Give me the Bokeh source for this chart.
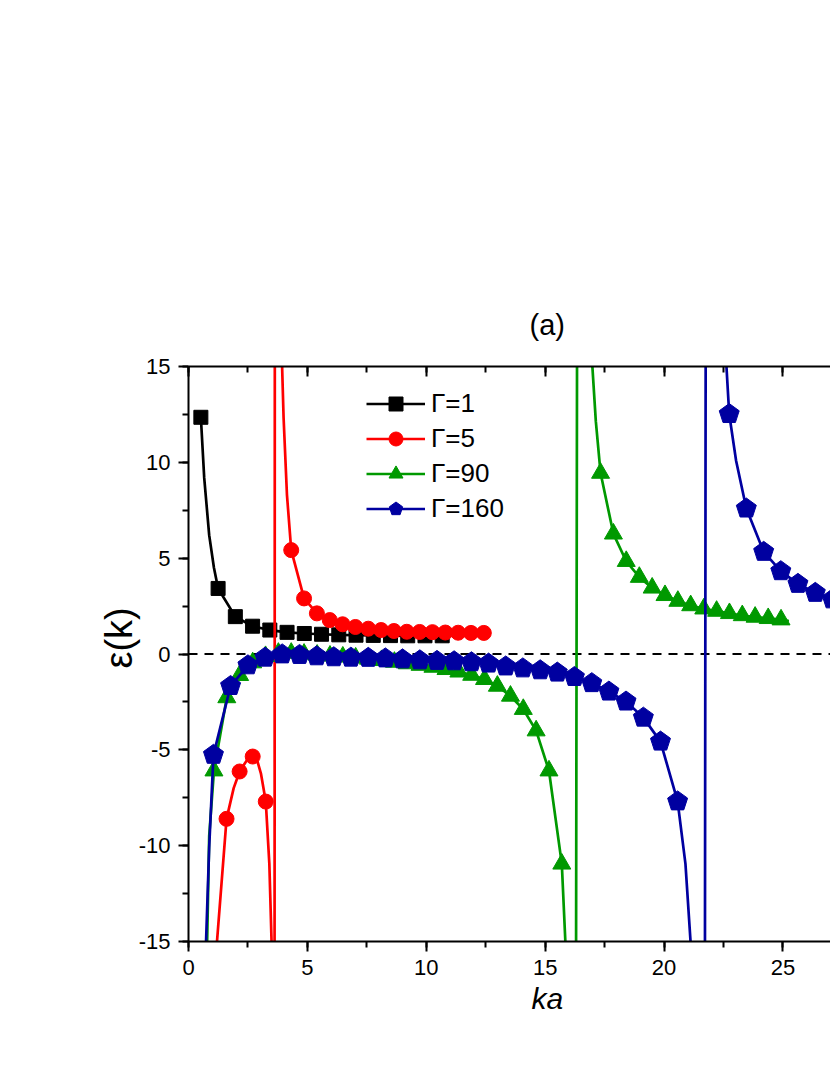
import math
from bokeh.plotting import figure
from bokeh.models import (LinearAxis, SingleIntervalTicker, Span, Legend, Title,
                          LegendItem, Range1d, CustomJSTickFormatter)
from bokeh.embed import file_html
from bokeh.resources import INLINE

NaN = float("nan")

# ---------------- data ----------------
# Gamma = 1 (black squares)
black_x = [0.52, 1.245, 1.97, 2.695, 3.42, 4.145, 4.87, 5.595, 6.32, 7.045, 7.77, 8.495, 9.22, 9.945, 10.67]
black_y = [12.35, 3.42, 1.95, 1.45, 1.25, 1.13, 1.07, 1.03, 1.0, 0.98, 0.97, 0.96, 0.95, 0.95, 0.95]
black_curve_x = [0.66, 0.87, 1.07]          # extra points of the curve between first two markers
black_curve_y = [9.2, 6.2, 4.5]

# Gamma = 5 (red circles)
red_x = [1.6, 2.15, 2.7, 3.25, 4.32, 4.86, 5.4, 5.94, 6.48, 7.02, 7.56, 8.1, 8.64, 9.18, 9.72,
         10.26, 10.8, 11.34, 11.88, 12.42]
red_y = [-8.6, -6.13, -5.35, -7.7, 5.42, 2.9, 2.12, 1.77, 1.55, 1.41, 1.32, 1.25, 1.2, 1.16, 1.15,
         1.14, 1.12, 1.11, 1.1, 1.1]
red_branch1_x = [1.18, 1.6, 1.9, 2.15, 2.45, 2.7, 2.9, 3.05, 3.25, 3.4, 3.5]
red_branch1_y = [-15.3, -8.6, -7.0, -6.13, -5.55, -5.35, -5.6, -6.26, -7.7, -10.95, -15.3]
red_pole_x = [3.62, 3.63]
red_pole_y = [-15.3, 15.3]
red_branch2_pre_x = [3.93, 4.0, 4.14]
red_branch2_pre_y = [15.3, 12.3, 8.32]

# Gamma = 90 (green triangles)
green_x_low = [1.07, 1.61, 2.15, 2.70, 3.24, 3.78, 4.32, 4.86, 5.41, 5.95, 6.49, 7.03, 7.57, 8.12,
               8.66, 9.20, 9.74, 10.28, 10.83, 11.37, 11.91, 12.45, 12.99, 13.54, 14.08, 14.62,
               15.16, 15.70]
green_y_low = [-6.09, -2.27, -1.11, -0.45, -0.12, 0.05, 0.05, 0.0, -0.05, -0.1, -0.15, -0.2, -0.26,
               -0.33, -0.42, -0.5, -0.58, -0.68, -0.8, -0.93, -1.1, -1.32, -1.67, -2.19, -2.88,
               -4.0, -6.09, -10.95]
green_x_up = [17.33, 17.87, 18.41, 18.96, 19.50, 20.04, 20.58, 21.12, 21.67, 22.21, 22.75, 23.29,
              23.83, 24.38, 24.92]
green_y_up = [9.44, 6.27, 4.84, 4.01, 3.45, 3.06, 2.76, 2.53, 2.36, 2.24, 2.12, 2.01, 1.93, 1.86, 1.79]
green_pre_x, green_pre_y = [0.78, 0.87], [-15.3, -9.5]
green_post_x, green_post_y = [15.86], [-15.3]
green_pole_x, green_pole_y = [16.3, 16.34], [-15.3, 15.3]
green_up_pre_x, green_up_pre_y = [16.97, 17.13], [15.3, 12.15]
green_up_post_x, green_up_post_y = [25.25], [1.72]

# Gamma = 160 (blue pentagons)
blue_x_low = [1.05, 1.77, 2.50, 3.22, 3.94, 4.67, 5.39, 6.11, 6.83, 7.56, 8.28, 9.00, 9.73, 10.45,
              11.17, 11.90, 12.62, 13.34, 14.06, 14.79, 15.51, 16.23, 16.96, 17.68, 18.40, 19.13,
              19.85, 20.57]
blue_y_low = [-5.26, -1.67, -0.59, -0.19, -0.02, -0.05, -0.12, -0.17, -0.19, -0.2, -0.23, -0.28,
              -0.33, -0.36, -0.38, -0.43, -0.5, -0.65, -0.75, -0.85, -0.97, -1.2, -1.52, -1.96,
              -2.48, -3.32, -4.57, -7.69]
blue_x_up = [22.74, 23.46, 24.19, 24.91, 25.63, 26.36, 27.08]
blue_y_up = [12.52, 7.59, 5.33, 4.32, 3.66, 3.19, 2.85]
blue_pre_x, blue_pre_y = [0.73, 0.87], [-15.3, -10.08]
blue_post_x, blue_post_y = [20.9, 21.13], [-10.95, -15.3]
blue_pole_x, blue_pole_y = [21.72, 21.75], [-15.3, 15.3]
blue_up_pre_x, blue_up_pre_y = [22.61], [15.3]
blue_up_mid_x, blue_up_mid_y = [23.03], [10.08]

labels = ["\u0393=1", "\u0393=5", "\u0393=90", "\u0393=160"]
x_ticks_interval = 5
y_ticks_interval = 5

BLACK, RED, GREEN, BLUE = "#000000", "#FF0000", "#009900", "#0000A0"
FONT = "Liberation Sans"

# ---------------- figure ----------------
p = figure(width=830, height=1075, output_backend="svg", toolbar_location=None,
           x_range=Range1d(0, 27.0), y_range=Range1d(-15, 15),
           x_axis_location=None, y_axis_location=None,
           min_border_left=188, min_border_right=0, min_border_top=366, min_border_bottom=134)
p.outline_line_color = None
p.background_fill_color = "white"
p.border_fill_color = "white"
for g in p.grid:
    g.visible = False


def style_axis(ax, interval, inward=False):
    ax.ticker = SingleIntervalTicker(interval=interval, num_minor_ticks=2)
    ax.axis_line_width = 2
    ax.axis_line_color = "black"
    ax.major_tick_line_width = 2
    ax.minor_tick_line_width = 2
    ax.major_tick_line_color = "black"
    ax.minor_tick_line_color = "black"
    if inward:
        ax.major_tick_in, ax.major_tick_out = 10, 0
        ax.minor_tick_in, ax.minor_tick_out = 6, 0
        ax.formatter = CustomJSTickFormatter(code="return ''")
    else:
        ax.major_tick_in, ax.major_tick_out = 0, 10
        ax.minor_tick_in, ax.minor_tick_out = 0, 6
        ax.formatter = CustomJSTickFormatter(code="return tick.toString()")
    ax.major_label_text_font = FONT
    ax.major_label_text_font_size = "22px"
    ax.major_label_text_color = "black"
    ax.major_label_standoff = 8


xb = LinearAxis()
style_axis(xb, x_ticks_interval)
p.add_layout(xb, "below")
yl = LinearAxis()
style_axis(yl, y_ticks_interval)
p.add_layout(yl, "left")
xt = LinearAxis()
style_axis(xt, x_ticks_interval, inward=True)
p.add_layout(xt, "above")

zero = Span(location=0, dimension="width", line_color="black", line_width=2, line_dash="9 7")
zero.level = "underlay"
p.add_layout(zero)

LW = 2.7


def seg(*parts):
    xs, ys = [], []
    for a, b in parts:
        if a is None:
            xs.append(NaN)
            ys.append(NaN)
        else:
            xs += list(a)
            ys += list(b)
    return xs, ys


# black
bx, by = seg((black_x[:1], black_y[:1]), (black_curve_x, black_curve_y), (black_x[1:], black_y[1:]))
l_black = p.line(bx, by, line_width=LW, line_color=BLACK)
m_black = p.scatter(black_x, black_y, marker="square", size=14, fill_color=BLACK, line_color=BLACK)

# red
rx, ry = seg((red_branch1_x, red_branch1_y), (None, None), (red_pole_x, red_pole_y), (None, None),
             (red_branch2_pre_x, red_branch2_pre_y), (red_x[4:], red_y[4:]))
l_red = p.line(rx, ry, line_width=LW, line_color=RED)
m_red = p.scatter(red_x, red_y, marker="circle", size=15, fill_color=RED, line_color=RED)

# green
gx, gy = seg((green_pre_x, green_pre_y), (green_x_low, green_y_low), (green_post_x, green_post_y),
             (None, None), (green_pole_x, green_pole_y), (None, None),
             (green_up_pre_x, green_up_pre_y), (green_x_up, green_y_up),
             (green_up_post_x, green_up_post_y))
l_green = p.line(gx, gy, line_width=LW, line_color=GREEN)
m_green = p.scatter(green_x_low + green_x_up, green_y_low + green_y_up, marker="triangle", size=18,
                    fill_color=GREEN, line_color=GREEN)

# blue
ux, uy = seg((blue_pre_x, blue_pre_y), (blue_x_low, blue_y_low), (blue_post_x, blue_post_y),
             (None, None), (blue_pole_x, blue_pole_y), (None, None),
             (blue_up_pre_x, blue_up_pre_y), (blue_x_up[:1], blue_y_up[:1]),
             (blue_up_mid_x, blue_up_mid_y), (blue_x_up[1:], blue_y_up[1:]))
l_blue = p.line(ux, uy, line_width=LW, line_color=BLUE)
bxs = blue_x_low + blue_x_up
bys = blue_y_low + blue_y_up
m_blue = p.ngon(x=bxs, y=bys, radius=10.5, radius_units="screen", n=5,
                fill_color=BLUE, line_color=BLUE)

legend = Legend(items=[LegendItem(label=labels[0], renderers=[l_black, m_black]),
                       LegendItem(label=labels[1], renderers=[l_red, m_red]),
                       LegendItem(label=labels[2], renderers=[l_green, m_green]),
                       LegendItem(label=labels[3], renderers=[l_blue, m_blue])],
                location=(178, 415), orientation="vertical",
                border_line_color=None, background_fill_alpha=0, padding=0, margin=0, spacing=0,
                glyph_width=59, glyph_height=35, label_height=35, label_standoff=6,
                label_text_font=FONT, label_text_font_size="26px", label_text_baseline="middle",
                label_text_color="black")
p.add_layout(legend)

# texts as titles
p.title.text = "(a)"
p.title.align = "left"
p.title.offset = 341
p.title.standoff = 51
p.title.text_font = FONT
p.title.text_font_size = "29px"
p.title.text_font_style = "normal"
p.title.text_color = "black"

ka = Title(text="ka", align="left", offset=343, standoff=4, text_font=FONT,
           text_font_size="30px", text_font_style="italic", text_color="black")
p.add_layout(ka, "below")

ylab = Title(text="\u03b5(k)", align="left", offset=273, standoff=-8, text_font=FONT,
             text_font_size="38px", text_font_style="normal", text_color="black")
p.add_layout(ylab, "left")

open("out.html", "w").write(file_html(p, INLINE))
